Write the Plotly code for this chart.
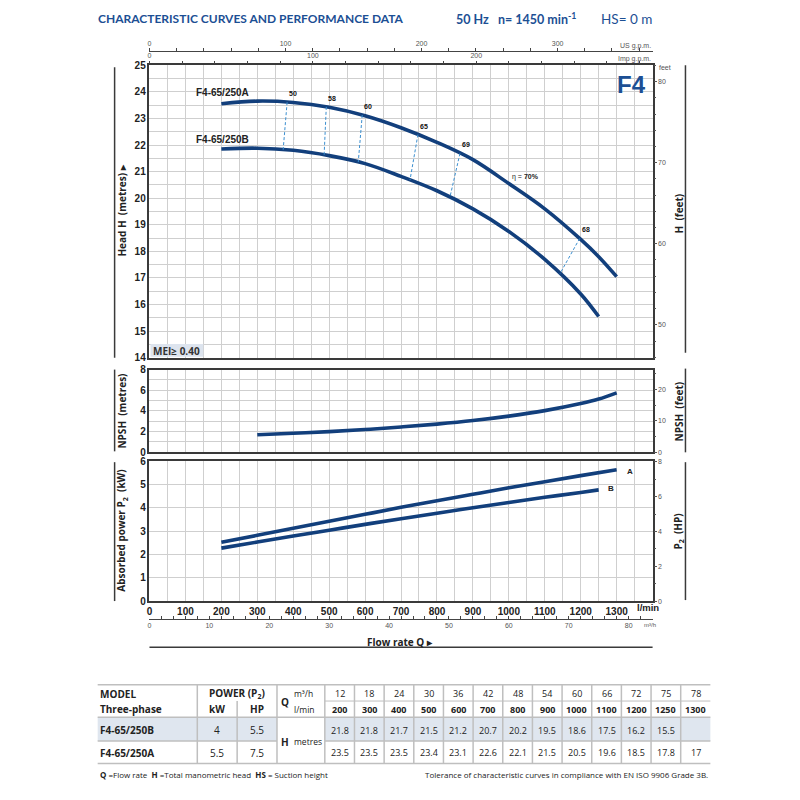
import numpy as np
import plotly.graph_objects as go

W, H = 800, 800
OX, OY = 8, 8  # page margin of the browser body

# performance table
q_m3h = [12, 18, 24, 30, 36, 42, 48, 54, 60, 66, 72, 75, 78]
q_lmin = [200, 300, 400, 500, 600, 700, 800, 900, 1000, 1100, 1200, 1250, 1300]
tab_head_b = [21.8, 21.8, 21.7, 21.5, 21.2, 20.7, 20.2, 19.5, 18.6, 17.5, 16.2, 15.5, None]
tab_head_a = [23.5, 23.5, 23.5, 23.4, 23.1, 22.6, 22.1, 21.5, 20.5, 19.6, 18.5, 17.8, 17]
models = ["F4-65/250B", "F4-65/250A"]
power_kw = ["4", "5.5"]
power_hp = ["5.5", "7.5"]

# head curves (l/min -> m)
curve_q_a = [200, 300, 400, 500, 600, 700, 800, 900, 1000, 1100, 1200, 1250, 1300]
curve_h_a = [23.55, 23.65, 23.6, 23.42, 23.1, 22.65, 22.1, 21.45, 20.55, 19.6, 18.45, 17.8, 17.05]
curve_q_b = [200, 300, 400, 500, 600, 700, 800, 900, 1000, 1100, 1200, 1250]
curve_h_b = [21.85, 21.88, 21.8, 21.6, 21.3, 20.82, 20.28, 19.6, 18.75, 17.7, 16.4, 15.55]

# iso-efficiency lines (flow on curve A, flow on curve B)
eff_labels = ["50", "58", "60", "65", "69", "68"]
eff_q_a = [383, 492, 592, 747, 864, 1197]
eff_q_b = [372, 486, 581, 725, 836, 1142]

# NPSH
npsh_q = [300, 400, 500, 600, 700, 800, 900, 1000, 1100, 1200, 1250, 1300]
npsh_m = [1.7, 1.85, 2.0, 2.2, 2.45, 2.73, 3.07, 3.5, 4.03, 4.72, 5.15, 5.75]

# absorbed power
pw_q_a = [200, 300, 400, 500, 600, 700, 800, 900, 1000, 1100, 1200, 1300]
pw_a = [2.52, 2.82, 3.12, 3.42, 3.72, 4.02, 4.3, 4.58, 4.86, 5.12, 5.38, 5.63]
pw_q_b = [200, 300, 400, 500, 600, 700, 800, 900, 1000, 1100, 1200, 1250]
pw_b = [2.27, 2.53, 2.79, 3.04, 3.29, 3.53, 3.77, 4.0, 4.23, 4.45, 4.66, 4.77]

NAVY = "#123f7c"
BLUE = "#1c4f94"
GRID = "#cfcfcf"
FRAME = "#3a3a3a"
NUMF = "Liberation Sans, Arial, sans-serif"
SANS = "Open Sans, sans-serif"
HEAD = "Lato, sans-serif"


def px(x):
    return (x - OX) / W


def py(y):
    return 1 - (y - OY) / H


XDOM = [px(147), px(652)]
D_MAIN = [py(357), py(60)]
D_NPSH = [py(453), py(369)]
D_POW = [py(604), py(462)]

fig = go.Figure()

line_kw = dict(color=NAVY, width=3.6, shape="spline")
fig.add_trace(go.Scatter(x=curve_q_a, y=curve_h_a, mode="lines", line=line_kw,
                         xaxis="x", yaxis="y"))
fig.add_trace(go.Scatter(x=curve_q_b, y=curve_h_b, mode="lines", line=line_kw,
                         xaxis="x", yaxis="y"))

ex, ey = [], []
for qa, qb in zip(eff_q_a, eff_q_b):
    ex += [qa, qb, None]
    ey += [np.interp(qa, curve_q_a, curve_h_a), np.interp(qb, curve_q_b, curve_h_b), None]
fig.add_trace(go.Scatter(x=ex, y=ey, mode="lines",
                         line=dict(color="#3b8fd0", width=1, dash="3px,2px"),
                         xaxis="x", yaxis="y"))

fig.add_trace(go.Scatter(x=npsh_q, y=npsh_m, mode="lines", line=line_kw,
                         xaxis="x2", yaxis="y3"))
fig.add_trace(go.Scatter(x=pw_q_a, y=pw_a, mode="lines", line=line_kw,
                         xaxis="x3", yaxis="y5"))
fig.add_trace(go.Scatter(x=pw_q_b, y=pw_b, mode="lines", line=line_kw,
                         xaxis="x3", yaxis="y5"))

# empty traces so the secondary unit axes get drawn
for xa, ya in [("x4", "y"), ("x5", "y"), ("x", "y2"), ("x2", "y4"), ("x3", "y6"), ("x6", "y5")]:
    fig.add_trace(go.Scatter(x=[None], y=[None], mode="lines", xaxis=xa, yaxis=ya,
                             hoverinfo="skip"))

tick_font = dict(family=NUMF, size=10, color="#222", weight="bold")
small_font = dict(family=NUMF, size=7, color="#555")

xbase = dict(domain=XDOM, range=[0, 1400], dtick=100, tick0=0, showgrid=True,
             gridcolor=GRID, gridwidth=1, minor=dict(dtick=50, showgrid=True, gridcolor=GRID),
             showline=True, mirror=True, linecolor=FRAME, linewidth=1.5,
             zeroline=False, ticks="", fixedrange=True)
ybase = dict(showgrid=True, gridcolor=GRID, gridwidth=1, showline=True, mirror=True,
             linecolor=FRAME, linewidth=1.5, zeroline=False, ticks="",
             tickfont=tick_font, fixedrange=True)
yright = dict(side="right", showgrid=False, zeroline=False, ticks="outside",
              ticklen=3, tickcolor="#555", tickfont=small_font, fixedrange=True)

fig.update_layout(
    width=W, height=H, margin=dict(l=0, r=0, t=0, b=0),
    paper_bgcolor="white", plot_bgcolor="white", showlegend=False,
    xaxis=dict(xbase, anchor="y", showticklabels=False),
    yaxis=dict(ybase, domain=D_MAIN, anchor="x", range=[14, 25], dtick=1,
               minor=dict(dtick=0.5, showgrid=True, gridcolor=GRID)),
    yaxis2=dict(yright, overlaying="y", anchor="x", range=[14 / 0.3048, 25 / 0.3048],
                tickvals=[50, 60, 70, 80],
                minor=dict(dtick=2, ticks="outside", ticklen=2, tickcolor="#555")),
    xaxis4=dict(overlaying="x", anchor="y", side="top", range=[0, 1400 / 4.54609],
                tickvals=[0, 100, 200], ticks="outside", ticklen=3, tickcolor="#444",
                minor=dict(dtick=20, ticks="outside", ticklen=3, tickcolor="#444"),
                showgrid=False, zeroline=False, tickfont=small_font, fixedrange=True),
    xaxis5=dict(overlaying="x", anchor="free", position=py(46), side="top",
                range=[0, 1400 / 3.78541], tickvals=[0, 100, 200, 300],
                ticks="outside", ticklen=3, tickcolor="#444",
                minor=dict(dtick=20, ticks="outside", ticklen=3, tickcolor="#444"),
                showline=True, linecolor="#444", linewidth=1.2,
                showgrid=False, zeroline=False, tickfont=small_font, fixedrange=True),
    xaxis2=dict(xbase, anchor="y3", showticklabels=False),
    yaxis3=dict(ybase, domain=D_NPSH, anchor="x2", range=[0, 8], dtick=2,
                minor=dict(dtick=1, showgrid=True, gridcolor=GRID)),
    yaxis4=dict(yright, overlaying="y3", anchor="x2", range=[0, 8 / 0.3048],
                tickvals=[0, 10, 20],
                minor=dict(dtick=5, ticks="outside", ticklen=2, tickcolor="#555")),
    xaxis3=dict(xbase, anchor="y5", tickvals=list(range(0, 1400, 100)),
                tickfont=tick_font),
    yaxis5=dict(ybase, domain=D_POW, anchor="x3", range=[0, 6], dtick=1),
    yaxis6=dict(yright, overlaying="y5", anchor="x3", range=[0, 6 / 0.7457],
                tickvals=[0, 2, 4, 6, 8],
                minor=dict(dtick=1, ticks="outside", ticklen=2, tickcolor="#555")),
    xaxis6=dict(overlaying="x3", anchor="free", position=py(622), side="bottom",
                range=[0, 1400 / 16.6667], tickvals=list(range(0, 90, 10)),
                ticks="inside", ticklen=3, tickcolor="#444",
                minor=dict(dtick=2, ticks="inside", ticklen=3, tickcolor="#444"),
                showline=True, linecolor="#444", linewidth=1.2,
                showgrid=False, zeroline=False, tickfont=small_font, fixedrange=True),
)

ann = []


def text(x, y, s, size=10, color="#222", bold=False, family=SANS, xanchor="center",
         yanchor="middle", angle=0, **kw):
    if bold:
        s = "<b>" + s + "</b>"
    ann.append(dict(x=px(x), y=py(y), xref="paper", yref="paper", text=s,
                    showarrow=False, xanchor=xanchor, yanchor=yanchor, textangle=angle,
                    font=dict(family=family, size=size, color=color), **kw))


# header
text(93, 13, "CHARACTERISTIC CURVES AND PERFORMANCE DATA", size=12, color=BLUE,
     bold=True, xanchor="left", family=HEAD)
text(453, 13, "50 Hz &nbsp;&nbsp;n= 1450 min<sup>-1</sup>", size=12.5, color=BLUE, bold=True,
     xanchor="left", family=HEAD)
text(598, 13, "HS= 0 m", size=13.5, color=BLUE, xanchor="left", family=HEAD)

# axis unit labels
text(652, 40, "US g.p.m.", size=7, color="#555", family=NUMF, xanchor="right")
text(652, 54, "Imp g.p.m.", size=7, color="#555", family=NUMF, xanchor="right")
text(656, 62, "feet", size=7, color="#555", family=NUMF, xanchor="left")
text(634, 611, "l/min", size=9.5, bold=True, family=NUMF, xanchor="left")
text(649, 628, "m³/h", size=6, color="#555", family=NUMF)
text(398, 646, "Flow rate Q &#9656;", size=10, bold=True)

# side titles
text(119, 208, "Head H  (metres) &#9656;", size=10, bold=True, angle=-90)
text(119, 411, "NPSH  (metres)", size=10, bold=True, angle=-90)
text(119, 533, "Absorbed power P<sub>2</sub>  (kW)", size=10, bold=True, angle=-90)
text(678, 210, "H  (feet)", size=10, bold=True, angle=-90)
text(678, 411, "NPSH  (feet)", size=10, bold=True, angle=-90)
text(678, 533, "P<sub>2</sub>  (HP)", size=10, bold=True, angle=-90)

# labels inside the charts
text(631, 80, "F4", size=24, color=BLUE, bold=True, family=NUMF)
text(192, 88, "F4-65/250A", size=10, bold=True, family=NUMF, xanchor="left")
text(192, 135, "F4-65/250B", size=10, bold=True, family=NUMF, xanchor="left")
text(174, 350, "MEI≥ 0.40", size=10, bold=True, color="#333")
for lab, qa in zip(eff_labels, eff_q_a):
    ann.append(dict(x=qa, y=np.interp(qa, curve_q_a, curve_h_a), xref="x", yref="y",
                    text="<b>" + lab + "</b>", showarrow=False, xanchor="left",
                    yanchor="bottom", xshift=0, yshift=3,
                    font=dict(family=NUMF, size=7, color="#111")))
text(509, 173, "η = <b>70%</b>", size=7, family=NUMF, xanchor="left")
text(624, 472, "A", size=8, bold=True, family=NUMF, xanchor="left")
text(605, 490, "B", size=8, bold=True, family=NUMF, xanchor="left")

# decorative side rules
shapes = []


def hline(x0, x1, y, color=FRAME, width=1.5):
    shapes.append(dict(type="line", xref="paper", yref="paper", x0=px(x0), x1=px(x1),
                       y0=py(y), y1=py(y), line=dict(color=color, width=width)))


def vline(x, y0, y1, color=FRAME, width=1.5):
    shapes.append(dict(type="line", xref="paper", yref="paper", x0=px(x), x1=px(x),
                       y0=py(y0), y1=py(y1), line=dict(color=color, width=width)))


for (a, b) in [(62, 357), (369, 452), (463, 604)]:
    vline(112, a, b)
for (a, b) in [(60, 352), (368, 453), (463, 603)]:
    vline(685, a, b)
hline(147, 652, 651)
shapes.append(dict(type="rect", xref="paper", yref="paper", x0=px(148), x1=px(201),
                   y0=py(356), y1=py(343), fillcolor="#dde4ee", line=dict(width=0),
                   layer="above"))

# table (shifted slightly down)
TY = 4
TG = "#bfbfbf"
cw = (710 - 323) / 13
cols = [323 + i * cw for i in range(14)]
for x0, x1 in [(95, 275), (323, 710)]:
    shapes.append(dict(type="rect", xref="paper", yref="paper", x0=px(x0), x1=px(x1),
                       y0=py(742 + TY), y1=py(718 + TY), fillcolor="#dfe6ef",
                       line=dict(width=0), layer="below"))
hline(95, 710, 685 + TY, TG)
hline(95, 710, 718 + TY, TG)
hline(323, 710, 701.5 + TY, TG, 1)
hline(95, 275, 742 + TY, TG)
hline(323, 710, 742 + TY, TG)
hline(95, 710, 765 + TY, TG)
vline(195, 685 + TY, 765 + TY, TG)
vline(235, 701.5 + TY, 765 + TY, TG)
vline(275, 685 + TY, 765 + TY, TG)
for c in cols[:-1]:
    vline(c, 685 + TY, 765 + TY, TG)

r1, r2 = 694 + TY, 710 + TY
text(95, r1, "MODEL", size=10, bold=True, xanchor="left")
text(95, r2, "Three-phase", size=10, bold=True, xanchor="left")
text(235, r1, "POWER (P<sub>2</sub>)", size=10, bold=True)
text(215, r2, "kW", size=10, bold=True)
text(255, r2, "HP", size=10, bold=True)
text(283, 702 + TY, "Q", size=10, bold=True)
text(290, r1, "m³/h", size=8.5, xanchor="left")
text(290, r2, "l/min", size=8.5, xanchor="left")
text(283, 743 + TY, "H", size=10, bold=True)
text(290, 743 + TY, "metres", size=8.5, xanchor="left")
row_y = [731 + TY, 754 + TY]
for i in range(2):
    text(95, row_y[i], models[i], size=10, bold=True, xanchor="left")
    text(215, row_y[i], power_kw[i], size=10)
    text(255, row_y[i], power_hp[i], size=10)
for j in range(13):
    cx = cols[j] + cw / 2
    text(cx, r1, str(q_m3h[j]), size=9)
    text(cx, r2, str(q_lmin[j]), size=9, bold=True)
    if tab_head_b[j] is not None:
        text(cx, row_y[0], f"{tab_head_b[j]:g}", size=9)
    text(cx, row_y[1], f"{tab_head_a[j]:g}", size=9)

text(95, 776 + TY, "<b>Q</b> =Flow rate  <b>H</b> =Total manometric head  <b>HS</b> = Suction height",
     size=8, xanchor="left")
text(710, 776 + TY, "Tolerance of characteristic curves in compliance with EN ISO 9906 Grade 3B.",
     size=8, xanchor="right")

fig.update_layout(annotations=ann, shapes=shapes)
fig.write_html("out.html")
